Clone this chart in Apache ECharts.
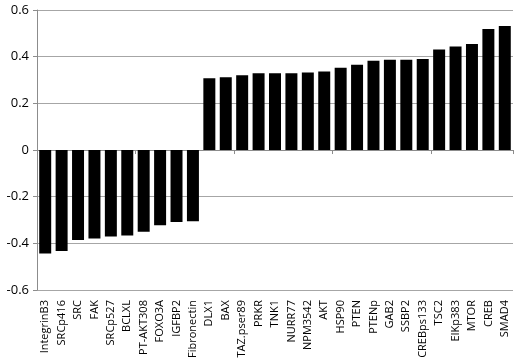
<!DOCTYPE html>
<html><head><meta charset="utf-8">
<script src="https://cdn.jsdelivr.net/npm/echarts@6/dist/echarts.min.js"></script>
<style>html,body{margin:0;padding:0;background:#fff}#c{width:520px;height:361px}</style>
</head><body><div id="c"></div>
<script>
var categories = ["IntegrinB3","SRCp416","SRC","FAK","SRCp527","BCLXL","PT-AKT308","FOXO3A","IGFBP2","Fibronectin","DLX1","BAX","TAZ.pser89","PRKR","TNK1","NURR77","NPM3542","AKT","HSP90","PTEN","PTENp","GAB2","SSBP2","CREBps133","TSC2","EIKp383","MTOR","CREB","SMAD4"];
var values = [-0.443,-0.433,-0.386,-0.379,-0.370,-0.366,-0.350,-0.322,-0.308,-0.305,0.308,0.312,0.320,0.329,0.329,0.329,0.332,0.336,0.353,0.365,0.383,0.387,0.387,0.390,0.431,0.444,0.454,0.519,0.531];
var yTicks = [-0.6,-0.4,-0.2,0,0.2,0.4,0.6];
var font = "Open Sans";
var chart = echarts.init(document.getElementById('c'));
chart.setOption({
  animation:false,
  grid:{left:37,right:7,top:10,bottom:69},
  xAxis:[{
    type:'category',data:categories,
    axisLine:{onZero:true,lineStyle:{color:'#8c8c8c',width:1}},
    axisTick:{show:true,length:4,lineStyle:{color:'#8c8c8c'}},
    axisLabel:{show:false}
  },{
    type:'category',data:categories,position:'bottom',
    axisLine:{show:false},axisTick:{show:false},
    axisLabel:{rotate:90,interval:0,margin:10,fontSize:11,fontFamily:font,color:'#000'}
  }],
  yAxis:{
    type:'value',min:-0.6,max:0.6,interval:0.2,
    axisLine:{show:true,lineStyle:{color:'#8c8c8c'}},
    axisTick:{show:true,length:4,lineStyle:{color:'#8c8c8c'}},
    splitLine:{lineStyle:{color:'#a6a6a6',width:1}},
    axisLabel:{fontSize:13,fontFamily:font,color:'#000',margin:8,
      formatter:function(v){var r=Math.round(v*10)/10;return yTicks.indexOf(r)>=0?String(r):'';}}
  },
  series:[{type:'bar',data:values,xAxisIndex:0,barCategoryGap:'27%',itemStyle:{color:'#000'}}]
});
</script></body></html>
